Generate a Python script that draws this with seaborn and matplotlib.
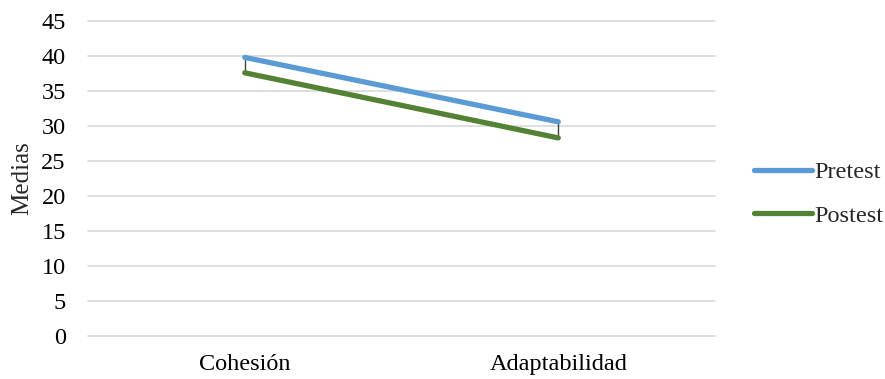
import matplotlib
matplotlib.use("Agg")
import matplotlib.pyplot as plt
import seaborn as sns
import pandas as pd
from matplotlib.lines import Line2D

categories = ["Cohesión", "Adaptabilidad"]
pretest = [39.8, 30.6]
postest = [37.6, 28.3]
series_names = ["Pretest", "Postest"]
y_ticks = [0, 5, 10, 15, 20, 25, 30, 35, 40, 45]

df = pd.DataFrame({
    "Categoria": categories * 2,
    "Media": pretest + postest,
    "Serie": [series_names[0]] * 2 + [series_names[1]] * 2,
})
df["x"] = df["Categoria"].map({c: i for i, c in enumerate(categories)})

sns.set_theme(style="white")
plt.rcParams["font.family"] = ["Liberation Serif", "DejaVu Serif"]

fig = plt.figure(figsize=(8.85, 3.79), dpi=100)
ax = fig.add_axes([88 / 885, 1 - 336 / 379, (715 - 88) / 885, (336 - 21) / 379])

palette = {"Pretest": "#5B9BD5", "Postest": "#548235"}

# high-low connectors between the two series
for i in range(len(categories)):
    ax.plot([i, i], [postest[i], pretest[i]], color="#404040", lw=1.0, zorder=2,
            solid_capstyle="butt")

sns.lineplot(data=df, x="x", y="Media", hue="Serie", palette=palette,
             linewidth=3.8, ax=ax, legend=False, zorder=3,
             solid_capstyle="round")

ax.set_xlim(-0.5, len(categories) - 0.5)
ax.set_ylim(0, 45)
ax.set_yticks(y_ticks)
ax.set_xticks(range(len(categories)))
ax.set_xticklabels(categories)
ax.tick_params(axis="both", length=0, labelsize=17.5, colors="#000000")
ax.tick_params(axis="y", pad=16)
ax.tick_params(axis="x", pad=13)
ax.yaxis.grid(True, color="#D9D9D9", lw=1.2)
for gl in ax.get_ygridlines():
    gl.set_clip_on(False)
ax.set_axisbelow(True)
for s in ax.spines.values():
    s.set_visible(False)
ax.set_xlabel("")
ax.set_ylabel("Medias", fontsize=18, labelpad=6)

handles = [Line2D([0], [0], color=palette[n], lw=3.8, solid_capstyle="round") for n in series_names]
fig.legend(handles, series_names, loc="center left",
           bbox_to_anchor=(754 / 885, 1 - 194 / 379), frameon=False,
           fontsize=17.5, handlelength=2.4, handletextpad=0.1,
           labelspacing=0.9, borderaxespad=0, borderpad=0)

fig.savefig("out.png", dpi=100)
